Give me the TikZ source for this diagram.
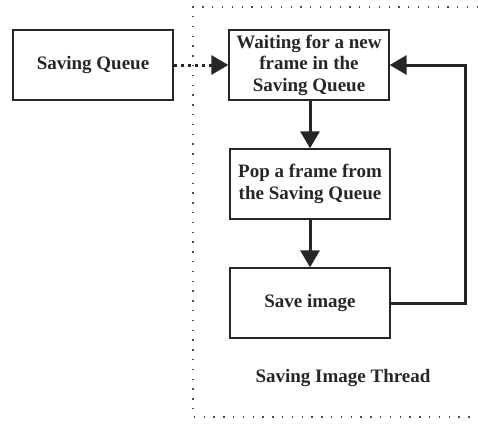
\documentclass[tikz,border=0pt]{standalone}
\usepackage{fontspec}
\setmainfont{Liberation Serif}
\usetikzlibrary{arrows.meta}
\begin{document}
\begin{tikzpicture}[x=1pt,y=-1pt,
  box/.style={draw=black!85, line width=1.3pt, minimum width=160pt, minimum height=70pt, align=center, inner sep=2pt, font=\bfseries\fontsize{19}{21.5}\selectfont, text=black!85},
  flow/.style={draw=black!85, line width=3pt, -{Triangle[length=17pt,width=19pt]}},
  frame/.style={draw=black!70, line width=1.3pt, dash pattern=on 1.3pt off 8.5pt}]
\useasboundingbox (0,0) rectangle (478,423);
\node[box] (sq) at (93,65) {Saving Queue};
\node[box] (wait) at (309,65) {Waiting for a new\\frame in the\\Saving Queue};
\node[box] (pop) at (310,184) {Pop a frame from\\the Saving Queue};
\node[box] (save) at (310,303) {Save image};
\node[font=\bfseries\fontsize{19}{21.5}\selectfont, text=black!85] (lbl) at (343,378) {Saving Image Thread};
\coordinate (ftl) at (193,7);
\coordinate (ftr) at (478,7);
\coordinate (fbl) at (193,417);
\coordinate (fbr) at (478,417);
\draw[frame] (ftr) -- (ftl) -- (fbl) -- (fbr);
\draw[draw=black!85, line width=3pt, dash pattern=on 3pt off 4pt, -{Triangle[length=17pt,width=19pt]}] (sq.east) -- (wait.west);
\draw[flow] (wait.south -| pop.north) -- (pop.north);
\draw[flow] (pop) -- (save);
\coordinate (r1) at (465,303);
\coordinate (r2) at (465,65);
\draw[flow] (save.east) -- (r1) -- (r2) -- (wait.east);
\end{tikzpicture}
\end{document}
